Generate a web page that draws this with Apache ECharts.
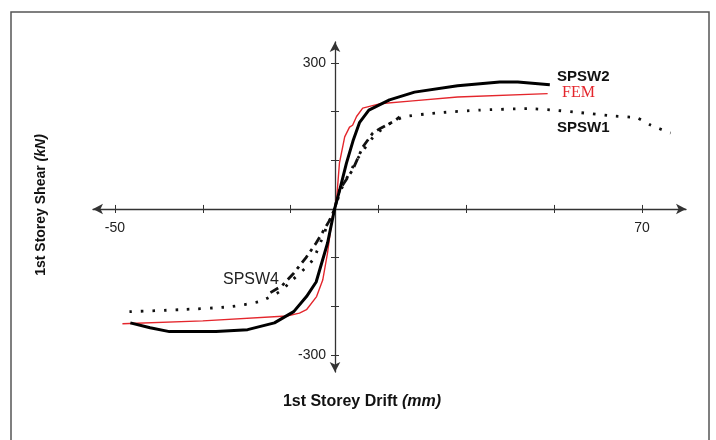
<!DOCTYPE html>
<html>
<head>
<meta charset="utf-8">
<script src="https://cdn.jsdelivr.net/npm/echarts@6/dist/echarts.min.js"></script>
<style>
  html, body { margin: 0; padding: 0; background: #fff; }
  #main { width: 716px; height: 440px; }
</style>
</head>
<body>
<div id="main"></div>
<script>
  // drift (mm), shear (kN)
  var spsw2 = [[-46.5,-234],[-42,-244],[-37.6,-252],[-27,-252],[-19.8,-248],[-13.7,-234],[-9.3,-211],[-6.4,-180],[-4.2,-150],[-1.6,-70],[0,0],[1.2,40],[2.7,94],[4.2,140],[5.7,178],[7.8,203],[12.5,224],[18.2,240],[28,253],[37.6,261],[41.7,261],[49,255]];
  var fem = [[-48.3,-236],[-30,-230],[-10.9,-220],[-8,-214],[-6.4,-207],[-4.1,-180],[-2.7,-146],[-1.6,-90],[-0.5,-16],[0,0],[0.5,25],[1.1,94],[2.3,148],[3.4,168],[4.1,172],[5,190],[6.4,207],[10.2,216],[17.8,222],[28,230],[48.5,237]];
  var spsw1 = [[-46.7,-211],[-35.3,-207],[-23.9,-201],[-17,-190],[-12.5,-170],[-9.6,-146],[-5,-105],[-1.8,-37],[0,0],[1.5,40],[5,100],[9,150],[12.5,175],[15.7,189],[23,197],[33,203],[44,206],[50,203],[55.8,198],[63.3,191],[68.8,187],[72,172],[76.5,156]];
  var spsw4 = [[-14.6,-172],[-12,-158],[-9.3,-132],[-6.5,-100],[-4.2,-70],[-1.1,-23],[0,0],[1.1,39],[4.1,80],[6.4,127],[8.7,156],[10.5,166],[13.5,180],[14.8,189]];

  var xTicks = [-50,-30,-10,10,30,50,70];
  var xLabels = [-50,70];
  var yTicks = [-300,-200,-100,100,200,300];
  var yLabels = [-300,300];

  var myChart = echarts.init(document.getElementById("main"));

  var axisLine = {
    onZero: false,
    symbol: ["arrow", "arrow"],
    symbolSize: [8, 10],
    lineStyle: { color: "#333", width: 1.3 }
  };
  var labelFont = { color: "#222", fontSize: 14, fontFamily: "Liberation Sans" };

  var option = {
    animation: false,
    grid: { left: 93, top: 42, width: 593, height: 330 },
    xAxis: [{
      type: "value",
      min: -55,
      max: 80,
      position: "bottom",
      offset: -163, // put the axis on y = 0
      splitLine: { show: false },
      axisLine: axisLine,
      axisTick: { show: true, customValues: xTicks, length: 4, lineStyle: { color: "#333" } },
      axisLabel: Object.assign({ customValues: xLabels, margin: 12 }, labelFont)
    }, {
      // other half of the crossing ticks
      type: "value", min: -55, max: 80, position: "bottom", offset: -163,
      splitLine: { show: false }, axisLine: { show: false }, axisLabel: { show: false },
      axisTick: { show: true, inside: true, customValues: xTicks, length: 4, lineStyle: { color: "#333" } }
    }],
    yAxis: [{
      type: "value",
      min: -335,
      max: 343,
      position: "left",
      offset: -242, // put the axis on x = 0
      splitLine: { show: false },
      axisLine: axisLine,
      axisTick: { show: true, customValues: yTicks, length: 4, lineStyle: { color: "#333" } },
      axisLabel: Object.assign({ customValues: yLabels, margin: 9 }, labelFont)
    }, {
      type: "value", min: -335, max: 343, position: "left", offset: -242,
      splitLine: { show: false }, axisLine: { show: false }, axisLabel: { show: false },
      axisTick: { show: true, inside: true, customValues: yTicks, length: 4, lineStyle: { color: "#333" } }
    }],
    series: [
      { name: "SPSW1", type: "line", data: spsw1, showSymbol: false, smooth: 0.2,
        lineStyle: { color: "#111", width: 2.8, type: [2.5, 9] } },
      { name: "SPSW4", type: "line", data: spsw4, showSymbol: false,
        lineStyle: { color: "#111", width: 2.8, type: [9, 5, 3, 5] } },
      { name: "FEM", type: "line", data: fem, showSymbol: false,
        lineStyle: { color: "#e4262c", width: 1.4 } },
      { name: "SPSW2", type: "line", data: spsw2, showSymbol: false,
        lineStyle: { color: "#000", width: 3 } }
    ],
    graphic: [
      { type: "rect", shape: { x: 11, y: 12, width: 698, height: 440 },
        style: { fill: "none", stroke: "#555", lineWidth: 1.5 } },
      { type: "text", left: 557, top: 69,
        style: { text: "SPSW2", font: "bold 15px 'Liberation Sans'", fill: "#111" } },
      { type: "text", left: 562, top: 85,
        style: { text: "FEM", font: "16px 'Liberation Serif'", fill: "#e4262c" } },
      { type: "text", left: 557, top: 120,
        style: { text: "SPSW1", font: "bold 15px 'Liberation Sans'", fill: "#111" } },
      { type: "text", left: 223, top: 272,
        style: { text: "SPSW4", font: "16px 'Liberation Sans'", fill: "#222" } },
      { type: "text", x: 362, y: 402,
        style: {
          text: "{a|1st Storey Drift }{b|(mm)}",
          align: "center", verticalAlign: "middle",
          rich: {
            a: { font: "bold 16px 'Liberation Sans'", fill: "#111" },
            b: { font: "italic bold 16px 'Liberation Sans'", fill: "#111" }
          }
        } },
      { type: "text", x: 41, y: 205, rotation: Math.PI / 2,
        style: {
          text: "{a|1st Storey Shear }{b|(kN)}",
          align: "center", verticalAlign: "middle",
          rich: {
            a: { font: "bold 14px 'Liberation Sans'", fill: "#111" },
            b: { font: "italic bold 14px 'Liberation Sans'", fill: "#111" }
          }
        } }
    ]
  };

  myChart.setOption(option);
</script>
</body>
</html>
